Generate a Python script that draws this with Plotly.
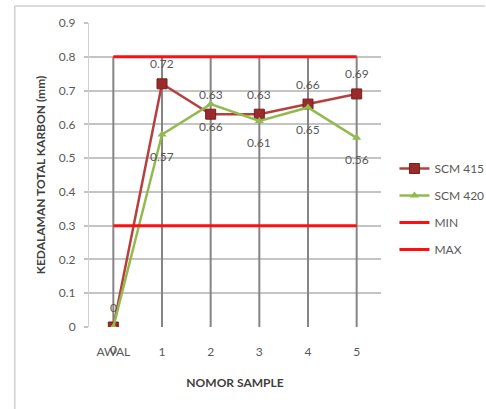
import numpy as np
import plotly.graph_objects as go

# Data
categories = ["AWAL", "1", "2", "3", "4", "5"]
scm415 = [0, 0.72, 0.63, 0.63, 0.66, 0.69]
scm420 = [0, 0.57, 0.66, 0.61, 0.65, 0.56]
min_limit = [0.3, 0.3, 0.3, 0.3, 0.3, 0.3]
max_limit = [0.8, 0.8, 0.8, 0.8, 0.8, 0.8]
y_ticks = [0, 0.1, 0.2, 0.3, 0.4, 0.5, 0.6, 0.7, 0.8, 0.9]

W, H = 486, 409
L, R, T, B = 88.5, 104.5, 23, 82
PW, PH = W - L - R, H - T - B

FONT = "Lato, 'Open Sans', sans-serif"
RED_LINE = "#B5403D"
RED_MARK = "#992B2B"
GREEN = "#92BA4E"
LIMIT = "#FF1010"

fig = go.Figure()

# Drop lines from the highest value at each category down to the axis
top = np.maximum.reduce([scm415, scm420, min_limit, max_limit])
dx, dy = [], []
for c, v in zip(categories, top):
    dx += [c, c, None]
    dy += [0, v, None]
fig.add_trace(go.Scatter(x=dx, y=dy, mode="lines", showlegend=False,
                         hoverinfo="skip",
                         line=dict(color="#858585", width=2)))

fig.add_trace(go.Scatter(x=categories, y=scm415, name="SCM 415",
                         mode="lines+markers", legendgroup="a",
                         line=dict(color=RED_LINE, width=2.5),
                         marker=dict(symbol="square", size=10, color=RED_MARK,
                                     line=dict(color="#7A1E1E", width=1))))
fig.add_trace(go.Scatter(x=categories, y=scm420, name="SCM 420",
                         mode="lines+markers", legendgroup="b",
                         line=dict(color=GREEN, width=2.5),
                         marker=dict(symbol="triangle-up", size=8, color=GREEN)))
fig.add_trace(go.Scatter(x=categories, y=min_limit, name="MIN",
                         mode="lines", legendgroup="c",
                         line=dict(color=LIMIT, width=3)))
fig.add_trace(go.Scatter(x=categories, y=max_limit, name="MAX",
                         mode="lines", legendgroup="d",
                         line=dict(color=LIMIT, width=3)))

# Value labels: SCM 415 above its points, SCM 420 below
annotations = []
for c, v in zip(categories, scm415):
    annotations.append(dict(x=c, y=v, text=f"{v:g}", showarrow=False,
                            yshift=20, font=dict(family=FONT, size=12, color="#595959")))
for c, v in zip(categories, scm420):
    annotations.append(dict(x=c, y=v, text=f"{v:g}", showarrow=False,
                            yshift=-22, font=dict(family=FONT, size=12, color="#595959")))

# Outer chart frame (left and top edges)
def px_x(p):
    return (p - L) / PW

def px_y(p):
    return (H - B - p) / PH

shapes = [
    dict(type="line", xref="paper", yref="paper",
         x0=px_x(14), x1=px_x(14), y0=px_y(6), y1=px_y(409),
         line=dict(color="#D0D0D0", width=1.5)),
    dict(type="line", xref="paper", yref="paper",
         x0=px_x(14), x1=px_x(486), y0=px_y(6), y1=px_y(6),
         line=dict(color="#D0D0D0", width=1.5)),
]

fig.update_layout(
    width=W, height=H,
    margin=dict(l=L, r=R, t=T, b=B, pad=0, autoexpand=False),
    paper_bgcolor="white", plot_bgcolor="white",
    font=dict(family=FONT, size=12, color="#595959"),
    showlegend=True,
    legend=dict(x=px_x(395), y=px_y(154), xanchor="left", yanchor="top",
                font=dict(family=FONT, size=12, color="#595959"),
                tracegroupgap=8, itemwidth=30,
                bgcolor="rgba(0,0,0,0)"),
    annotations=annotations,
    shapes=shapes,
    xaxis=dict(type="category", categoryorder="array", categoryarray=categories,
               range=[-0.5, 5.5], showgrid=False, zeroline=False,
               showline=False, ticks="", ticklabelstandoff=16,
               tickfont=dict(family=FONT, size=12, color="#595959"),
               title=dict(text="<b>NOMOR SAMPLE</b>", standoff=20,
                          font=dict(family=FONT, size=12, color="#404040"))),
    yaxis=dict(range=[0, 0.9], tickvals=y_ticks,
               ticktext=[f"{t:g}" for t in y_ticks],
               showgrid=True, gridcolor="#C4C4C4", gridwidth=2,
               zeroline=False, showline=True, linecolor="#D0D0D0", linewidth=1,
               ticks="outside", ticklen=4, tickcolor="#C4C4C4", tickwidth=2,
               ticklabelstandoff=6,
               tickfont=dict(family=FONT, size=12, color="#595959"),
               title=dict(text="<b>KEDALAMAN TOTAL KARBON (mm)</b>", standoff=10,
                          font=dict(family=FONT, size=12, color="#404040"))),
)

fig.write_html("out.html")
